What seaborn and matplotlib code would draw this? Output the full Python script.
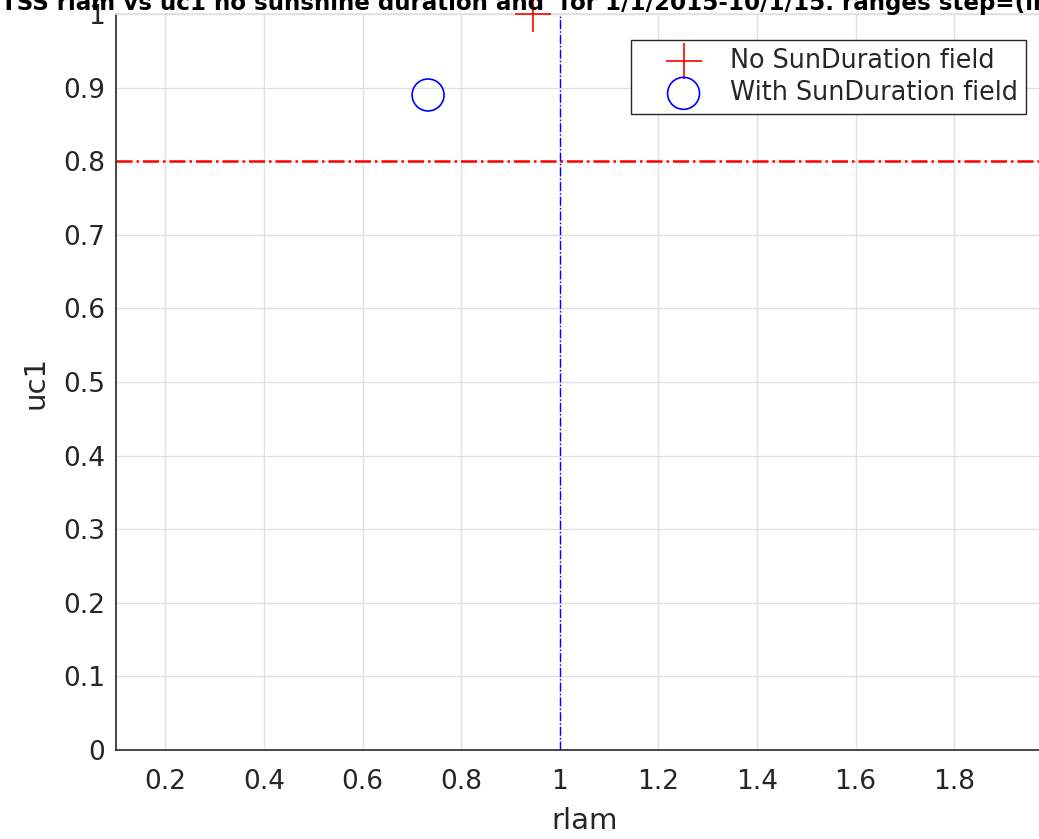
import matplotlib
matplotlib.use("Agg")
import matplotlib.pyplot as plt
import seaborn as sns
import pandas as pd

sns.set_theme(style="whitegrid")
plt.rcParams['font.family'] = ['DejaVu Sans']

# Data
series_labels = ["No SunDuration field", "With SunDuration field"]
rlam_values = [0.945, 0.733]
uc1_values = [1.0, 0.89]
uc1_threshold = 0.8
rlam_threshold = 1.0
x_ticks = [0.2, 0.4, 0.6, 0.8, 1.0, 1.2, 1.4, 1.6, 1.8, 2.0]
y_ticks = [0, 0.1, 0.2, 0.3, 0.4, 0.5, 0.6, 0.7, 0.8, 0.9, 1.0]
title_text = "TSS rlam vs uc1 no sunshine duration and  for 1/1/2015-10/1/15. ranges step=(in)"

df = pd.DataFrame({"rlam": rlam_values, "uc1": uc1_values, "series": series_labels})

W, H = 1039, 839
fig = plt.figure(figsize=(W / 100, H / 100), dpi=100)
ax_left, ax_bottom = 116 / W, (H - 750) / H
ax_w = (2.0 - 0.1) * 493 / W
ax_h = 736 / H
ax = fig.add_axes([ax_left, ax_bottom, ax_w, ax_h])
ax.set_facecolor("white")

# reference lines
ax.axhline(uc1_threshold, color=(1, 0, 0), linestyle="-.", linewidth=1.8, zorder=2)
ax.axvline(rlam_threshold, color=(0, 0, 1), linestyle="-.", linewidth=1.0, zorder=2)

sub0 = df[df.series == series_labels[0]]
sub1 = df[df.series == series_labels[1]]
sns.scatterplot(data=sub0, x="rlam", y="uc1", marker="+", s=26 ** 2, color=(1, 0, 0),
                linewidth=1.2, ax=ax, label=series_labels[0], clip_on=False, zorder=5)
sns.scatterplot(data=sub1, x="rlam", y="uc1", marker="o", s=23 ** 2, facecolor="none",
                edgecolor=(0, 0, 1), linewidth=1.2, ax=ax, label=series_labels[1],
                clip_on=False, zorder=5)

ax.set_xlim(0.1, 2.0)
ax.set_ylim(0, 1)
ax.set_xticks(x_ticks)
ax.set_xticklabels([f"{v:g}" for v in x_ticks])
ax.set_yticks(y_ticks)
ax.set_yticklabels([f"{v:g}" for v in y_ticks])
ax.tick_params(axis="both", direction="in", length=6, width=1, colors="#262626",
               labelsize=19)
ax.tick_params(axis="x", pad=14)
ax.tick_params(axis="y", pad=8)
ax.grid(True, color="#e0e0e0", linewidth=1)
for side in ["left", "bottom"]:
    ax.spines[side].set_color("#262626")
    ax.spines[side].set_linewidth(1.2)
for side in ["top", "right"]:
    ax.spines[side].set_color("#e0e0e0")
ax.set_xlabel("rlam", fontsize=21, color="#262626", labelpad=8)
ax.set_ylabel("uc1", fontsize=21, color="#262626", labelpad=10)

leg = ax.legend(loc="upper right", bbox_to_anchor=(1026 / W, (H - 40) / H),
                bbox_transform=fig.transFigure, borderaxespad=0, fontsize=18.4,
                frameon=True, fancybox=False, edgecolor="#262626", framealpha=1,
                handletextpad=0.08, borderpad=0.3, labelspacing=0.25, handlelength=3.5)
leg.get_frame().set_linewidth(1.0)

fig.text(1 / W, (H - 10) / H, title_text, fontsize=16.6, fontweight="bold",
         ha="left", va="baseline", color="black")

fig.savefig("out.png", dpi=100)
